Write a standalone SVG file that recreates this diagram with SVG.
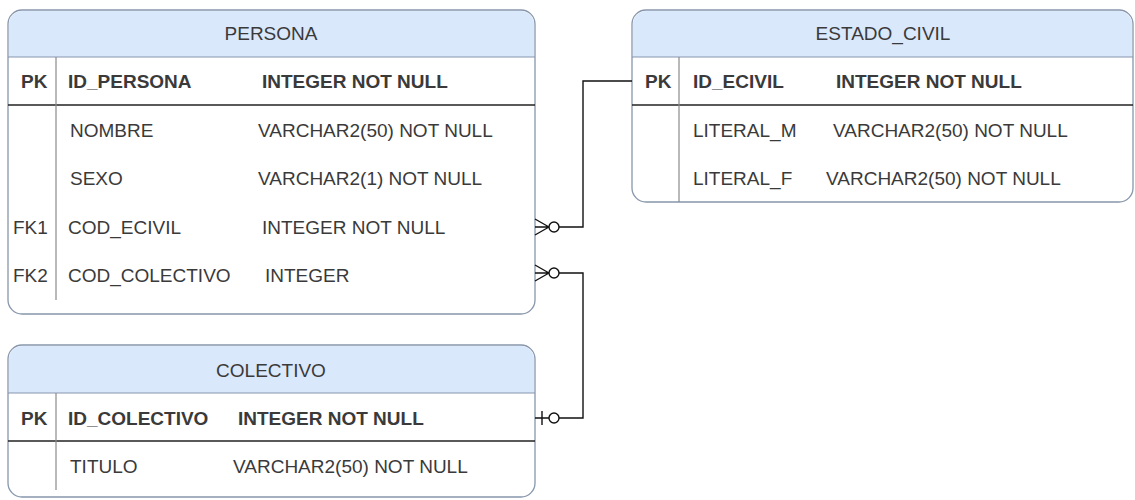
<svg xmlns="http://www.w3.org/2000/svg" width="1135" height="500" viewBox="0 0 1135 500">
<style>
.box{fill:#ffffff;stroke:#8796ab;stroke-width:1.3}
.hdr{fill:#dae8fc;stroke:none}
.hl{stroke:#8796ab;stroke-width:1.2}
.pkl{stroke:#222;stroke-width:1.3}
.dv{stroke:#8a8a8a;stroke-width:1.2}
text{font-family:"Liberation Sans",Arial,sans-serif;font-size:19px;fill:#3a3a3a}
.t{text-anchor:middle}
.b{font-weight:bold}
.c{fill:none;stroke:#111;stroke-width:1.4}
</style>
<rect width="1135" height="500" fill="#ffffff"/>
<g id="persona">
<rect class="box" x="8" y="10" width="527" height="304" rx="14"/>
<path class="hdr" d="M9 57 V24 A13 13 0 0 1 22 11 H521 A13 13 0 0 1 534 24 V57 Z"/>
<line class="hl" x1="8" y1="57" x2="535" y2="57"/>
<line class="pkl" x1="8" y1="105" x2="535" y2="105"/>
<line class="dv" x1="56" y1="57" x2="56" y2="300"/>
<text class="t" x="271" y="40">PERSONA</text>
<text class="b" x="21" y="88">PK</text>
<text class="b" x="68" y="88">ID_PERSONA</text>
<text class="b" x="262" y="88">INTEGER NOT NULL</text>
<text x="70" y="137">NOMBRE</text>
<text x="258" y="137">VARCHAR2(50) NOT NULL</text>
<text x="70" y="185">SEXO</text>
<text x="258" y="185">VARCHAR2(1) NOT NULL</text>
<text x="13" y="234">FK1</text>
<text x="68" y="234">COD_ECIVIL</text>
<text x="262" y="234">INTEGER NOT NULL</text>
<text x="13" y="282">FK2</text>
<text x="68" y="282">COD_COLECTIVO</text>
<text x="265" y="282">INTEGER</text>
</g>
<g id="estado_civil">
<rect class="box" x="632" y="10" width="501" height="192" rx="14"/>
<path class="hdr" d="M633 57 V24 A13 13 0 0 1 646 11 H1119 A13 13 0 0 1 1132 24 V57 Z"/>
<line class="hl" x1="632" y1="57" x2="1133" y2="57"/>
<line class="pkl" x1="632" y1="105" x2="1133" y2="105"/>
<line class="dv" x1="679" y1="57" x2="679" y2="202"/>
<text class="t" x="883" y="40">ESTADO_CIVIL</text>
<text class="b" x="645" y="88">PK</text>
<text class="b" x="693" y="88">ID_ECIVIL</text>
<text class="b" x="836" y="88">INTEGER NOT NULL</text>
<text x="693" y="137">LITERAL_M</text>
<text x="833" y="137">VARCHAR2(50) NOT NULL</text>
<text x="693" y="185">LITERAL_F</text>
<text x="826" y="185">VARCHAR2(50) NOT NULL</text>
</g>
<g id="colectivo">
<rect class="box" x="8" y="345" width="527" height="152" rx="14"/>
<path class="hdr" d="M9 393 V359 A13 13 0 0 1 22 346 H521 A13 13 0 0 1 534 359 V393 Z"/>
<line class="hl" x1="8" y1="393" x2="535" y2="393"/>
<line class="pkl" x1="8" y1="441" x2="535" y2="441"/>
<line class="dv" x1="56" y1="393" x2="56" y2="490"/>
<text class="t" x="271" y="377">COLECTIVO</text>
<text class="b" x="21" y="425">PK</text>
<text class="b" x="68" y="425">ID_COLECTIVO</text>
<text class="b" x="238" y="425">INTEGER NOT NULL</text>
<text x="70" y="473">TITULO</text>
<text x="233" y="473">VARCHAR2(50) NOT NULL</text>
</g>
<g id="connectors">
<path class="c" d="M535 219 L549 227 M535 227 H549 M535 235 L549 227"/>
<circle class="c" cx="554" cy="227" r="5"/>
<path class="c" d="M559 227 H583 V81 H632"/>
<path class="c" d="M535 265 L549 273 M535 273 H549 M535 281 L549 273"/>
<circle class="c" cx="554" cy="273" r="5"/>
<path class="c" d="M559 273 H583 V418 H559"/>
<circle class="c" cx="554" cy="418" r="5"/>
<path class="c" d="M535 418 H549 M542 411 V425"/>
</g>
</svg>
